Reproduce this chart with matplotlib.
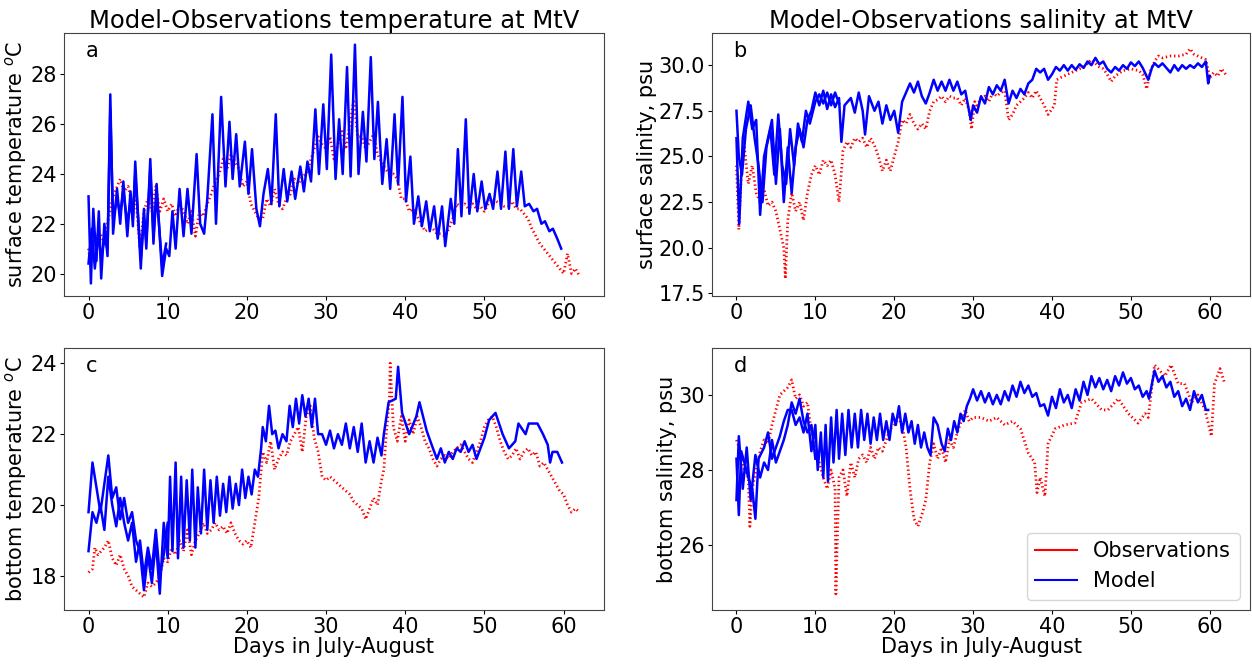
import matplotlib
matplotlib.use("Agg")
import matplotlib.pyplot as plt
from matplotlib.lines import Line2D

# ---------------- data (day, value) ----------------
# (a) surface temperature
ts_model = [(0.0,23.1),(0.3,19.6),(0.6,22.6),(1.0,20.5),(1.3,22.5),(1.6,19.8),(2.0,22.0),(2.4,20.7),
            (2.75,27.2),(3.1,21.6),(3.6,23.4),(4.0,22.0),(4.4,23.7),(4.9,21.5),(5.3,23.3),(5.6,21.9),
            (5.9,24.5),(6.6,20.2),(7.0,22.6),(7.3,21.0),(7.8,24.6),(8.2,21.2),(8.6,23.6),(9.3,19.9),
            (9.8,21.0),(10.2,20.7),(10.6,22.5),(11.0,21.0),(11.5,23.4),(12.0,21.5),(12.5,23.4),(13.0,21.6),
            (13.65,24.8),(14.1,22.0),(14.6,21.6),(15.0,23.0),(15.65,26.4),(16.1,22.0),(16.75,27.1),(17.3,23.5),
            (17.8,26.1),(18.2,23.8),(18.65,25.6),(19.1,23.5),(19.75,25.3),(20.2,23.2),(20.65,25.0),(21.2,22.6),
            (21.65,21.9),(22.1,23.2),(22.65,24.2),(23.1,22.8),(23.65,26.4),(24.1,22.7),(24.65,24.2),(25.1,22.9),
            (25.65,24.1),(26.1,23.0),(26.75,24.3),(27.2,23.3),(27.65,24.5),(28.1,23.7),(28.65,26.6),(29.1,24.0),
            (29.65,26.8),(30.1,24.2),(30.65,28.8),(31.2,23.8),(31.65,26.2),(32.1,24.0),(32.65,28.3),(33.1,23.9),
            (33.65,29.2),(34.1,24.0),(34.65,26.5),(35.1,24.5),(35.65,28.7),(36.1,24.6),(36.55,26.9),(37.1,23.6),
            (37.65,25.4),(38.1,23.4),(38.65,26.4),(39.1,23.6),(39.65,27.1),(40.1,22.9),(40.65,24.7),(41.1,22.0),
            (41.65,23.1),(42.1,21.9),(42.65,22.9),(43.1,21.7),(43.65,22.7),(44.1,21.4),(44.65,22.7),(45.05,21.1),
            (45.75,23.0),(46.2,22.0),(46.65,25.0),(47.1,22.3),(47.65,26.2),(48.1,22.4),(48.65,24.0),(49.1,22.5),
            (49.65,23.7),(50.1,22.6),(50.65,23.2),(51.1,22.6),(51.65,24.1),(52.1,22.6),(52.65,24.9),(53.1,22.6),
            (53.65,25.0),(54.1,22.7),(54.65,24.1),(55.1,22.7),(55.65,22.8),(56.2,22.5),(56.65,22.6),(57.2,22.0),
            (57.65,22.1),(58.2,21.7),(58.65,21.8),(59.2,21.4),(59.7,21.0)]
ts_model_b = [(0.0,20.4),(0.4,21.8),(0.8,20.2),(1.2,21.6),(1.6,20.6),(2.0,21.4),(2.4,21.0),(2.75,26.6),
              (3.1,22.2),(3.6,23.0),(4.0,22.4),(4.4,23.3),(4.9,22.0),(5.3,22.9),(5.6,22.2),(5.9,24.0),
              (6.6,20.6),(7.0,22.2),(7.3,21.3),(7.8,24.2),(8.2,21.5),(8.6,23.2),(9.3,20.3),(9.8,21.2)]
ts_obs = [(0.0,21.0),(0.3,20.3),(0.6,21.8),(1.0,21.0),(1.5,21.6),(2.0,21.2),(2.5,22.2),(3.0,23.0),
          (3.5,23.4),(4.0,23.8),(4.5,23.3),(5.0,23.5),(5.5,22.8),(6.0,23.0),(6.5,21.0),(7.0,22.5),
          (7.5,23.0),(8.0,22.5),(8.5,23.5),(9.0,22.5),(9.5,23.0),(10.0,22.5),(10.5,22.8),(11.0,22.3),
          (11.5,22.8),(12.0,22.5),(12.5,22.0),(13.0,22.5),(13.5,21.5),(14.0,22.5),(14.5,22.3),(15.0,22.8),
          (15.5,23.2),(16.0,23.7),(16.5,24.0),(17.0,24.6),(17.5,24.2),(18.0,24.8),(18.5,24.5),(19.0,24.2),
          (19.5,23.5),(20.0,23.7),(20.5,22.8),(21.0,22.5),(21.5,22.2),(22.0,22.2),(22.5,23.0),(23.0,22.7),
          (23.5,23.4),(24.0,22.8),(24.5,22.6),(25.0,23.0),(25.5,23.2),(26.0,23.8),(26.5,23.6),(27.0,23.9),
          (27.5,24.0),(28.0,24.5),(28.5,25.0),(29.0,25.5),(29.5,25.2),(30.0,25.0),(30.5,25.5),(31.0,24.6),
          (31.5,25.2),(32.0,25.8),(32.5,25.0),(33.0,26.0),(33.5,27.0),(34.0,25.5),(34.5,25.5),(35.0,25.0),
          (35.5,25.3),(36.0,25.6),(36.5,24.8),(37.0,24.5),(37.5,24.2),(38.0,24.0),(38.5,24.0),(39.0,23.8),
          (39.5,23.0),(40.0,23.0),(40.5,22.5),(41.0,22.6),(41.5,22.3),(42.0,22.0),(42.5,21.7),(43.0,21.8),
          (43.5,21.8),(44.0,21.6),(44.5,21.6),(45.0,21.5),(45.5,21.8),(46.0,22.2),(46.5,22.8),(47.0,22.7),
          (47.5,22.8),(48.0,22.6),(48.5,22.8),(49.0,22.6),(49.5,22.7),(50.0,22.5),(50.5,22.8),(51.0,23.0),
          (51.5,22.9),(52.0,22.8),(52.5,22.7),(53.0,22.7),(53.5,22.9),(54.0,22.6),(54.5,22.6),(55.0,22.4),
          (55.5,22.2),(56.0,21.8),(56.5,21.5),(57.0,21.2),(57.5,21.0),(58.0,20.8),(58.5,20.6),(59.0,20.4),
          (59.5,20.2),(60.0,20.0),(60.5,20.8),(61.0,20.0),(61.5,20.2),(62.0,19.9)]

# (b) surface salinity
ss_model = [(0.0,26.0),(0.35,21.3),(0.8,26.0),(1.5,28.0),(2.0,26.5),(2.5,27.0),(3.0,21.8),(3.5,25.0),
            (4.5,27.0),(5.0,23.5),(5.5,26.5),(6.0,22.5),(6.5,25.5),(7.0,23.0),(7.5,25.5),(8.0,26.5),
            (8.5,25.5),(9.0,27.0),(9.5,27.5),(10.0,28.5),(10.5,27.8),(11.0,28.6),(11.5,27.6),(12.0,28.4),
            (12.5,27.7),(13.0,28.2),(13.3,25.8),(13.7,27.8),(14.5,28.2),(15.0,27.4),(15.5,28.5),(16.0,27.5),
            (16.3,26.2),(16.8,28.3),(17.5,27.5),(18.0,28.0),(18.5,26.8),(19.0,27.8),(19.5,27.0),(20.0,27.5),
            (20.5,26.3),(21.0,28.0),(21.5,28.5),(22.0,29.0),(22.5,28.5),(23.0,29.1),(23.5,28.3),(24.0,27.9),
            (24.5,28.5),(25.0,29.2),(25.5,28.6),(26.0,29.1),(26.5,28.6),(27.0,29.2),(27.5,28.6),(28.0,29.1),
            (28.5,28.4),(29.0,28.6),(29.7,27.0),(30.0,27.8),(30.5,27.4),(31.0,28.3),(31.5,27.9),(32.0,28.8),
            (32.5,28.4),(33.0,28.9),(33.5,28.6),(34.0,29.2),(34.5,27.9),(35.0,28.6),(35.5,28.2),(36.0,28.7),
            (36.5,28.4),(37.0,29.0),(37.5,29.2),(38.0,29.8),(38.5,29.6),(39.0,29.8),(39.5,29.2),(40.0,29.5),
            (40.5,29.9),(41.0,29.7),(41.5,30.0),(42.0,29.7),(42.5,30.0),(43.0,29.75),(43.5,30.05),(44.0,29.85),
            (44.5,30.2),(45.0,30.0),(45.5,30.4),(46.0,30.05),(46.5,30.2),(47.0,29.8),(47.5,29.6),(48.0,29.9),
            (48.5,29.7),(49.0,30.0),(49.5,29.8),(50.0,30.15),(50.5,29.95),(51.0,30.2),(51.5,29.85),(52.2,29.2),
            (52.7,29.9),(53.0,30.1),(53.5,29.9),(54.0,30.1),(54.5,29.85),(55.0,29.6),(55.5,30.0),(56.0,29.7),
            (56.5,30.0),(57.0,29.8),(57.5,30.0),(58.0,29.85),(58.5,30.1),(59.0,29.9),(59.5,30.2),(59.8,29.0),
            (60.0,29.4)]
ss_model_b = [(0.0,27.5),(0.3,25.0),(0.7,24.0),(1.2,26.5),(1.8,27.8),(2.3,26.0),(2.8,24.5),(3.3,22.5),
              (3.8,25.5),(4.3,26.5),(4.8,24.0),(5.3,27.3),(5.8,24.5),(6.3,23.5),(6.8,26.5),(7.3,24.5),
              (7.8,26.8),(8.3,25.8),(8.8,27.5),(9.3,26.8),(10.0,28.0),(10.5,28.4),(11.0,27.9),(11.5,28.5),
              (12.0,27.8),(12.5,28.5),(13.0,27.9)]
ss_obs = [(0.0,24.5),(0.3,21.0),(0.6,24.0),(1.0,25.5),(1.5,23.5),(2.0,24.5),(2.5,23.0),(3.0,22.5),
          (3.5,23.2),(4.0,22.3),(4.5,22.5),(5.0,22.0),(5.5,21.0),(6.0,20.0),(6.2,18.3),(6.5,21.5),
          (7.0,23.0),(7.5,22.0),(8.0,22.5),(8.5,21.5),(9.0,23.0),(9.5,24.0),(10.0,24.5),(10.5,24.0),
          (11.0,24.8),(11.5,24.5),(12.0,24.8),(12.5,24.0),(13.0,22.5),(13.5,25.3),(14.0,25.8),(14.5,25.5),
          (15.0,26.0),(15.5,25.8),(16.0,26.0),(16.5,25.5),(17.0,26.0),(17.5,25.6),(18.0,25.0),(18.5,24.2),
          (19.0,24.8),(19.5,24.2),(20.0,25.0),(20.5,25.8),(21.0,27.0),(21.5,26.8),(22.0,27.3),(22.5,26.8),
          (23.0,26.5),(23.5,26.8),(24.0,26.5),(24.5,27.5),(25.0,28.0),(25.5,28.1),(26.0,28.3),(26.5,28.0),
          (27.0,28.3),(27.5,28.2),(28.0,28.2),(28.5,27.8),(29.0,28.2),(29.5,27.5),(29.8,26.5),(30.2,28.0),
          (30.5,27.8),(31.0,28.2),(31.5,28.3),(32.0,28.0),(32.5,28.5),(33.0,28.3),(33.5,28.5),(34.0,28.6),
          (34.5,27.0),(35.0,27.3),(35.5,27.8),(36.0,28.0),(36.5,28.2),(37.0,28.5),(37.5,28.2),(38.0,28.6),
          (38.5,28.2),(39.0,27.8),(39.5,27.3),(40.0,27.6),(40.3,27.8),(40.6,29.2),(41.0,29.3),(42.0,29.5),
          (43.0,29.7),(44.0,29.9),(45.0,30.3),(46.0,29.9),(46.5,29.8),(47.0,29.5),(47.5,29.1),(48.0,29.4),
          (49.0,29.7),(50.0,29.8),(51.0,29.7),(51.5,29.5),(52.0,28.7),(52.5,29.7),(53.0,30.2),(53.5,30.5),
          (54.0,30.4),(55.0,30.5),(56.0,30.5),(57.0,30.6),(57.5,30.9),(58.0,30.6),(59.0,30.4),(59.5,30.3),
          (60.0,29.3),(60.5,29.6),(61.0,29.4),(61.5,29.8),(62.0,29.5)]

# (c) bottom temperature
tb_model = [(0.0,19.8),(0.5,21.2),(1.0,20.5),(1.5,19.8),(2.0,20.6),(2.5,21.4),(3.0,20.2),(3.5,20.5),
            (4.0,19.6),(4.5,20.2),(5.0,19.5),(5.5,19.8),(6.0,19.0),(6.5,18.7),(7.0,17.6),(7.5,18.6),
            (8.0,17.8),(8.5,19.0),(9.0,17.5),(9.5,19.5),(10.0,18.5),(10.3,20.8),(10.6,18.7),(11.0,21.2),
            (11.3,18.5),(11.7,20.8),(12.0,18.8),(12.4,20.7),(12.8,19.0),(13.1,21.0),(13.5,18.8),(13.8,20.5),
            (14.2,19.2),(14.6,21.0),(15.0,19.3),(15.4,20.7),(15.8,19.5),(16.2,20.8),(16.6,19.7),(17.0,20.6),
            (17.4,19.8),(17.8,20.8),(18.2,19.9),(18.6,20.6),(19.0,20.0),(19.4,21.0),(19.8,20.2),(20.2,20.8),
            (20.6,20.3),(21.0,21.0),(21.4,20.8),(21.8,21.6),(22.0,22.2),(22.4,21.8),(22.8,22.8),(23.2,22.0),
            (23.6,22.1),(24.0,21.6),(24.5,22.0),(25.0,21.8),(25.4,22.8),(25.8,22.2),(26.2,23.0),(26.6,22.3),
            (27.0,23.1),(27.4,22.5),(27.8,23.0),(28.2,22.2),(28.6,23.0),(29.0,22.0),(29.5,22.0),(30.0,21.7),
            (30.5,22.1),(31.0,21.6),(31.5,22.0),(32.0,21.7),(32.5,22.3),(33.0,21.6),(33.5,22.2),(34.0,21.5),
            (34.5,22.3),(35.0,21.2),(35.5,21.8),(36.0,21.2),(36.5,21.9),(37.0,21.4),(37.3,22.0),(37.9,22.9),
            (38.8,23.0),(39.1,23.9),(39.6,22.6),(40.5,22.0),(41.4,22.5),(41.8,22.9),(42.7,22.1),(43.5,21.6),
            (44.0,21.3),(44.5,21.6),(45.0,21.2),(45.5,21.5),(46.0,21.3),(46.5,21.6),(47.0,21.5),(47.5,21.8),
            (48.0,21.5),(48.5,21.7),(49.0,21.3),(49.5,21.6),(50.0,21.9),(50.6,22.4),(51.4,22.6),(52.3,22.0),
            (53.1,21.6),(53.9,21.8),(54.3,22.3),(55.2,22.0),(55.6,22.3),(56.7,22.3),(57.4,22.0),(58.0,21.7),
            (58.3,21.2),(58.6,21.5),(59.2,21.5),(59.8,21.2)]
tb_model_b = [(0.0,18.7),(0.5,19.8),(1.0,19.5),(1.5,20.0),(2.0,19.3),(2.5,20.8),(3.0,20.0),(3.5,19.4),
              (4.0,20.2),(4.5,19.5),(5.0,19.0),(5.5,19.5),(6.0,18.4),(6.5,19.0),(7.0,18.0),(7.5,18.8),
              (8.0,18.2),(8.5,19.3),(9.0,18.0),(9.5,18.6),(10.0,19.5)]
tb_obs = [(0.0,18.1),(0.5,18.2),(0.8,18.8),(1.2,18.6),(2.0,18.8),(2.5,19.0),(3.0,18.5),(3.5,18.3),
          (4.0,18.6),(4.5,18.2),(5.0,18.0),(5.5,17.7),(6.0,17.6),(6.5,17.5),(7.0,17.4),(7.5,17.8),
          (8.0,17.7),(8.5,17.8),(9.0,18.0),(9.5,18.5),(10.0,18.4),(10.5,18.8),(11.0,18.6),(11.5,19.0),
          (12.0,18.7),(12.5,19.3),(13.0,18.6),(13.5,19.0),(14.0,19.2),(14.5,19.5),(15.0,19.2),(15.5,19.3),
          (16.0,19.5),(16.5,19.3),(17.0,19.4),(17.5,19.2),(18.0,19.5),(18.5,19.2),(19.0,19.0),(19.5,18.9),
          (20.0,19.0),(20.5,18.8),(21.0,19.5),(21.5,20.2),(22.0,21.5),(22.5,21.2),(23.0,21.8),(23.5,21.0),
          (24.0,21.3),(24.5,21.5),(25.0,21.4),(25.5,21.8),(26.0,22.0),(26.5,22.2),(27.0,21.5),(27.5,22.5),
          (28.0,22.8),(28.5,21.9),(29.0,21.5),(29.5,20.8),(30.0,20.7),(30.5,20.8),(31.0,20.7),(32.0,20.5),
          (33.0,20.3),(33.5,20.1),(34.0,20.0),(34.5,19.9),(35.0,19.6),(35.5,19.9),(36.0,20.2),(36.5,20.0),
          (37.0,20.7),(37.3,21.0),(37.6,22.0),(38.0,23.0),(38.1,24.0),(38.5,22.2),(39.0,21.8),(39.5,22.5),
          (40.0,21.8),(40.5,22.4),(41.0,22.0),(41.5,22.5),(42.0,22.2),(42.5,21.8),(43.0,21.6),(43.5,21.3),
          (44.0,21.1),(44.5,21.3),(45.0,21.4),(45.5,21.3),(46.0,21.5),(46.5,21.6),(47.0,21.7),(47.5,21.5),
          (48.0,21.3),(48.5,21.2),(49.0,21.5),(49.5,21.8),(50.0,22.2),(50.5,22.4),(51.0,22.5),(51.5,22.2),
          (52.0,21.8),(52.5,21.5),(53.0,21.3),(53.5,21.4),(54.0,21.6),(54.5,21.3),(55.0,21.5),(55.5,21.6),
          (56.0,21.4),(56.5,21.5),(57.0,21.1),(57.5,21.2),(58.0,21.0),(58.5,20.8),(59.0,20.6),(59.5,20.4),
          (60.0,20.3),(60.5,20.0),(61.0,19.8),(61.5,19.9),(62.0,19.8)]

# (d) bottom salinity
sb_model = [(0.0,28.3),(0.3,26.8),(0.6,28.5),(1.0,28.2),(1.5,27.8),(2.0,27.5),(2.4,26.7),(2.8,28.3),
            (3.5,28.6),(4.0,29.0),(4.5,28.3),(5.0,28.6),(5.5,28.9),(6.0,29.3),(6.5,29.6),(7.0,29.6),
            (7.5,29.2),(8.0,29.4),(8.5,29.0),(9.0,29.5),(9.5,28.5),(10.0,29.2),(10.3,28.0),(10.7,29.0),
            (11.0,27.8),(11.3,29.2),(11.6,27.7),(12.0,29.4),(12.3,28.2),(12.7,29.6),(13.0,28.3),(13.4,29.5),
            (13.8,28.4),(14.2,29.6),(14.6,28.6),(15.0,29.5),(15.4,28.6),(15.8,29.6),(16.2,28.8),(16.6,29.5),
            (17.0,28.7),(17.4,29.4),(17.8,28.8),(18.2,29.5),(18.6,28.8),(19.0,29.3),(19.4,28.8),(19.8,29.5),
            (20.2,29.2),(20.6,29.7),(21.0,29.0),(21.4,29.5),(21.8,29.0),(22.2,29.3),(22.6,28.7),(23.0,29.2),
            (23.4,28.6),(23.8,29.0),(24.2,28.6),(24.6,28.4),(25.0,29.4),(25.5,29.2),(26.0,28.7),(26.4,28.5),
            (26.8,29.1),(27.2,28.8),(27.6,29.3),(28.0,29.0),(28.4,29.5),(28.8,29.3),(29.2,29.7),(29.6,29.9),
            (30.0,30.15),(30.5,29.85),(31.0,30.1),(31.5,29.8),(32.0,30.05),(32.5,29.75),(33.0,30.0),(33.5,29.75),
            (34.0,30.1),(34.5,29.85),(35.0,30.25),(35.5,29.95),(36.0,30.35),(36.5,30.05),(37.0,30.25),(37.5,29.95),
            (38.0,30.05),(38.5,29.7),(39.0,29.75),(39.5,29.45),(40.0,29.95),(40.5,29.65),(41.0,30.15),(41.5,29.8),
            (42.0,30.0),(42.5,29.65),(43.0,30.15),(43.5,29.85),(44.0,30.35),(44.5,30.0),(45.0,30.5),(45.5,30.2),
            (46.0,30.45),(46.5,30.15),(47.0,30.4),(47.5,30.1),(48.0,30.5),(48.5,30.25),(49.0,30.6),(49.5,30.3),
            (50.0,30.45),(50.5,30.15),(51.0,30.25),(51.5,29.95),(52.0,30.1),(52.3,29.9),(53.0,30.65),(53.5,30.35),
            (54.0,30.5),(54.5,30.2),(55.0,30.35),(55.5,29.95),(56.0,30.1),(56.5,29.7),(57.0,29.9),(57.5,29.6),
            (58.0,30.1),(58.5,29.8),(59.0,30.0),(59.5,29.6),(59.8,29.6)]
sb_model_b = [(0.0,27.2),(0.3,28.9),(0.8,27.5),(1.3,28.6),(1.8,27.2),(2.4,28.4),(3.0,27.8),(3.5,28.2),
              (4.0,28.0),(4.5,28.8),(5.0,28.2),(5.5,28.5),(6.0,28.8),(6.5,29.2),(7.0,29.8),(7.5,29.5),
              (8.0,29.9),(8.5,29.3),(9.0,29.0),(9.5,29.2),(10.0,28.3)]
sb_obs = [(0.0,28.8),(0.5,28.5),(1.0,28.0),(1.5,27.8),(1.7,26.5),(2.0,27.5),(2.5,28.0),(3.0,28.5),
          (3.5,28.8),(4.0,28.7),(4.5,29.2),(5.0,29.6),(5.5,30.0),(6.0,30.1),(6.5,30.2),(7.0,30.4),
          (7.5,29.9),(8.0,30.0),(8.5,29.7),(9.0,29.8),(9.5,29.0),(10.0,28.6),(10.5,28.2),(11.0,27.8),
          (11.5,27.5),(12.0,28.0),(12.5,27.5),(12.6,24.7),(13.0,27.8),(13.5,28.0),(14.0,27.3),(14.5,28.2),
          (15.0,27.8),(15.5,28.3),(16.0,28.4),(16.5,28.2),(17.0,28.6),(17.5,28.3),(18.0,28.6),(18.5,28.5),
          (19.0,28.8),(19.5,29.1),(20.0,29.2),(20.5,29.4),(21.0,29.2),(21.5,28.6),(22.0,27.5),(22.5,26.7),
          (23.0,26.5),(23.5,26.8),(24.0,27.2),(24.5,28.2),(25.0,28.7),(25.5,28.3),(26.0,28.6),(26.5,28.2),
          (27.0,28.8),(27.5,28.6),(28.0,29.0),(28.5,29.3),(29.0,29.6),(29.5,29.3),(30.0,29.4),(31.0,29.4),
          (32.0,29.3),(33.0,29.4),(34.0,29.2),(35.0,29.3),(36.0,29.1),(37.0,28.45),(37.8,28.2),(38.1,27.4),
          (38.5,27.8),(39.1,27.3),(39.5,28.7),(40.4,29.1),(41.6,29.2),(42.9,29.25),(43.75,29.8),(45.0,29.9),
          (46.3,29.6),(47.1,29.6),(48.4,29.9),(49.7,29.5),(50.9,29.25),(51.8,29.5),(52.2,29.4),(53.0,30.8),
          (54.3,30.5),(55.1,30.8),(56.0,30.3),(56.8,30.3),(57.7,29.8),(58.5,30.0),(59.4,29.6),(60.2,28.9),
          (60.6,30.3),(61.3,30.7),(61.9,30.3)]

days_ticks = [0, 10, 20, 30, 40, 50, 60]
titles = ["Model-Observations temperature at MtV", "Model-Observations salinity at MtV"]
ylabels = ["surface temperature $^o$C", "surface salinity, psu",
           "bottom temperature $^o$C", "bottom salinity, psu"]
letters = ["a", "b", "c", "d"]
xlabel = "Days in July-August"
legend_labels = ["Observations", "Model"]

panels = [(ts_model, ts_model_b, ts_obs, (19.09, 29.66), [20, 22, 24, 26, 28]),
          (ss_model, ss_model_b, ss_obs, (17.35, 31.75), [17.5, 20.0, 22.5, 25.0, 27.5, 30.0]),
          (tb_model, tb_model_b, tb_obs, (17.04, 24.43), [18, 20, 22, 24]),
          (sb_model, sb_model_b, sb_obs, (24.27, 31.25), [26, 28, 30])]

# ---------------- figure ----------------
fig = plt.figure(figsize=(12.52, 6.64), dpi=100)
rects = [[0.0511, 0.554, 0.4313, 0.396], [0.5687, 0.554, 0.4297, 0.396],
         [0.0511, 0.0813, 0.4313, 0.3946], [0.5687, 0.0813, 0.4297, 0.3946]]
FS = 15
for i, (mod, mod_b, obs, ylim, yt) in enumerate(panels):
    ax = fig.add_axes(rects[i])
    ox = [p[0] for p in obs]; oy = [p[1] for p in obs]
    ax.plot(ox, oy, color='red', lw=2.0, ls=(0, (0.5, 1.0)))
    for m in (mod_b, mod):
        ax.plot([p[0] for p in m], [p[1] for p in m], color='blue', lw=1.8)
    ax.set_xlim(-3.1, 65.1)
    ax.set_ylim(*ylim)
    ax.set_xticks(days_ticks)
    ax.set_yticks(yt)
    ax.tick_params(labelsize=FS, length=3, pad=2)
    ax.set_ylabel(ylabels[i], fontsize=FS, labelpad=1)
    if i < 2:
        ax.set_title(titles[i], fontsize=17.5, pad=4)
    else:
        ax.set_xlabel(xlabel, fontsize=FS, labelpad=0)
    ax.text(0.04, 0.97, letters[i], transform=ax.transAxes, fontsize=FS, va='top')
    for s in ax.spines.values():
        s.set_color('#444444')
    if i == 3:
        handles = [Line2D([], [], color='red', lw=1.5), Line2D([], [], color='blue', lw=1.5)]
        ax.legend(handles, legend_labels, loc='lower right', fontsize=FS)

fig.savefig("out.png", dpi=100)
